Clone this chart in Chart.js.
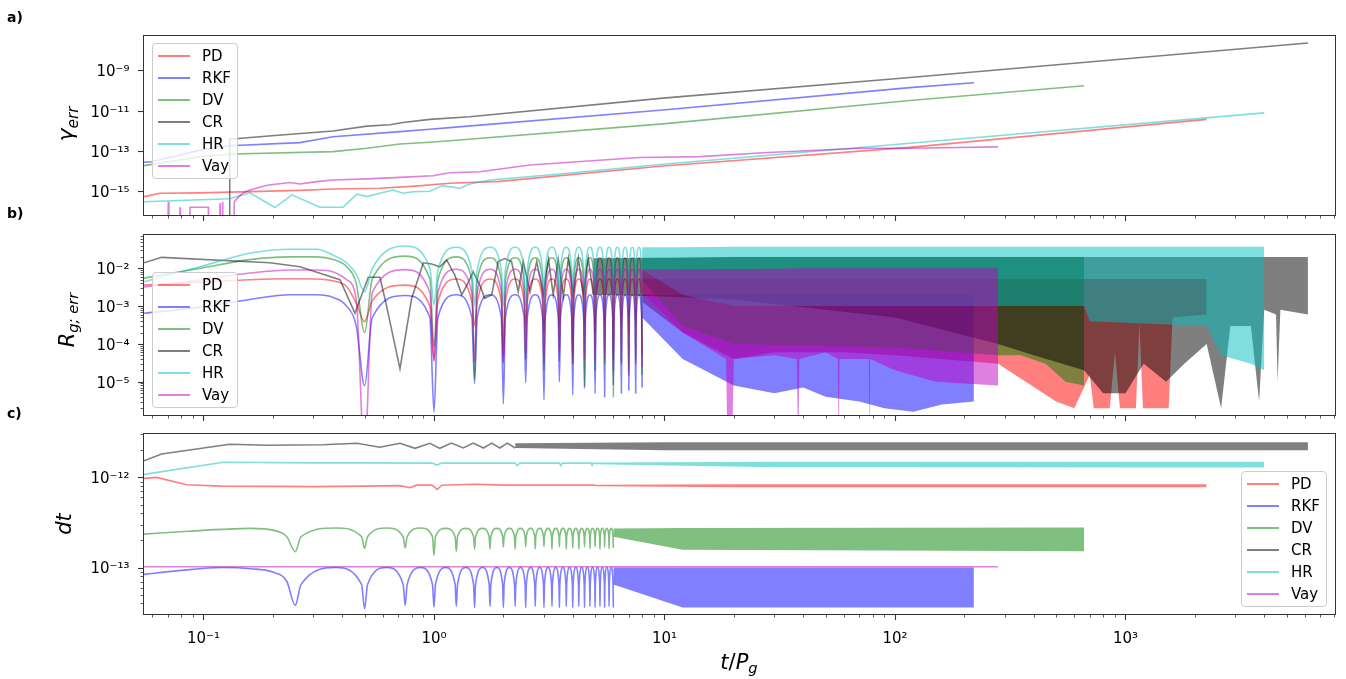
<!DOCTYPE html>
<html>
<head>
<meta charset="utf-8">
<script src="https://cdn.jsdelivr.net/npm/chart.js@4.4.1/dist/chart.umd.min.js"></script>
<style>
  body { margin: 0; background: #fff; font-family: "DejaVu Sans", sans-serif; }
  #wrap { position: relative; width: 1346px; height: 679px; overflow: hidden; }
  canvas { position: absolute; left: 0; top: 0; }
  .tag { position: absolute; left: 7px; font-weight: bold; font-size: 14px; transform: translateY(-50%); }
  .lab { position: absolute; font-style: italic; font-size: 21px; white-space: nowrap; line-height: 1; }
  .ylab { transform: translate(-50%, -50%) rotate(-90deg); }
  .xlab { transform: translate(-50%, -50%); }
  .lab sub { font-size: 70%; vertical-align: -0.3em; line-height: 0; }
  .legend { position: absolute; width: 86px; box-sizing: border-box; background: rgba(255,255,255,0.8);
            border: 1px solid #ccc; border-radius: 4px; padding: 1px 0 1px 5px; font-size: 15px; color: #000; }
  .legend .row { height: 22px; display: flex; align-items: center; white-space: nowrap; }
  .legend .swatch { display: inline-block; width: 32px; height: 1.6px; margin-right: 12px; }
</style>
</head>
<body>
<div id="wrap">
  <canvas id="chartA" width="1346" height="679"></canvas>
  <canvas id="chartB" width="1346" height="679"></canvas>
  <canvas id="chartC" width="1346" height="679"></canvas>

  <div class="tag" style="top:17px">a)</div>
  <div class="tag" style="top:213px">b)</div>
  <div class="tag" style="top:413px">c)</div>

  <div class="lab ylab" style="left:66px; top:124px; font-size:22px">γ<sub>err</sub></div>
  <div class="lab ylab" style="left:67px; top:320px">R<sub>g; err</sub></div>
  <div class="lab ylab" style="left:64px; top:524px">dt</div>
  <div class="lab xlab" style="left:739px; top:662px">t<span style="font-style:normal">/</span>P<sub>g</sub></div>

  <div class="legend" id="legA" style="left:152px; top:43px"></div>
  <div class="legend" id="legB" style="left:152px; top:272px"></div>
  <div class="legend" id="legC" style="left:1241px; top:471px"></div>
</div>

<script>
// series
const NAMES = ['PD', 'RKF', 'DV', 'CR', 'HR', 'Vay'];
const COLORS = ['rgba(255,0,0,0.5)', 'rgba(0,0,255,0.5)', 'rgba(0,128,0,0.5)',
                'rgba(0,0,0,0.5)', 'rgba(0,191,191,0.5)', 'rgba(191,0,191,0.5)'];

// x axis: t/P_g
const X_MIN = 0.0552, X_MAX = 8070;

// ---- a) gamma_err ----
const gPdT = [0.0552, 0.0648, 0.0966, 0.159, 0.262, 0.365, 0.583, 0.83, 1.17, 1.93, 9.85, 116, 2250];
const gPdV = [5.4e-16, 7.9e-16, 8.3e-16, 9.6e-16, 1.1e-15, 1.3e-15, 1.4e-15, 1.8e-15, 2.5e-15, 3.1e-15, 1.8e-14, 1.5e-13, 3.7e-12];
const gRkfT = [0.0552, 0.0598, 0.0966, 0.13, 0.262, 0.365, 0.712, 0.96, 1.17, 9.85, 116, 220];
const gRkfV = [2.75e-14, 2.9e-14, 1.1e-13, 1.8e-13, 2.6e-13, 5.1e-13, 9.1e-13, 1.2e-12, 1.44e-12, 1.07e-11, 1.4e-10, 2.45e-10];
const gDvT = [0.0552, 0.0966, 0.134, 0.365, 0.512, 0.712, 0.96, 1.17, 9.85, 116, 661];
const gDvV = [1.86e-14, 5.2e-14, 7.1e-14, 9.3e-14, 1.35e-13, 2.2e-13, 2.7e-13, 3.2e-13, 2.2e-12, 3.2e-11, 1.74e-10];
const gCrT = [0.1295, 0.130, 0.204, 0.365, 0.512, 0.644, 0.734, 0.96, 1.43, 9.85, 116, 6190];
const gCrV = [1e-17, 3.8e-13, 5.8e-13, 9.8e-13, 1.7e-12, 2.0e-12, 2.6e-12, 3.7e-12, 5.0e-12, 4.2e-11, 4.4e-10, 2.3e-8];
const gHrT = [0.0552, 0.13, 0.159, 0.204, 0.242, 0.32, 0.403, 0.463, 0.512, 0.583, 0.664, 0.734, 0.81,
              0.96, 1.09, 1.30, 1.43, 1.75, 2.14, 3.52, 9.85, 116, 4000];
const gHrV = [3.0e-16, 4.2e-16, 8.3e-16, 1.55e-16, 6.6e-16, 1.6e-16, 1.6e-16, 7.1e-16, 5.4e-16, 7.9e-16, 1.15e-15, 7.9e-16, 9.5e-16,
              1.0e-15, 1.9e-15, 1.4e-15, 2.3e-15, 3.6e-15, 4.4e-15, 7.2e-15, 2.2e-14, 2.4e-13, 7.8e-12];
const gVayT = [0.0552, 0.0700, 0.0704, 0.0708, 0.0788, 0.0791, 0.0794, 0.0872, 0.0874, 0.105, 0.1052,
               0.1175, 0.118, 0.1185, 0.1205, 0.121, 0.1215, 0.1355, 0.136, 0.1426, 0.149, 0.159, 0.189,
               0.237, 0.262, 0.311, 0.365, 0.512, 0.712, 0.99, 1.17, 1.58, 2.61, 7.8, 14.3, 26.8, 70.5, 116, 280];
const gVayV = [1e-17, 1e-17, 3e-16, 1e-17, 1e-17, 1.6e-16, 1e-17, 1e-17, 1.6e-16, 1.6e-16, 1e-17,
               1e-17, 2.6e-16, 1e-17, 1e-17, 3e-16, 1e-17, 1e-17, 3e-16, 5.4e-16, 8.5e-16, 1.15e-15, 2.0e-15,
               2.7e-15, 2.3e-15, 3.0e-15, 3.6e-15, 4.1e-15, 4.9e-15, 5.9e-15, 8.3e-15, 9.3e-15, 2.0e-14, 4.7e-14, 5.2e-14, 8.2e-14, 1.35e-13, 1.35e-13, 1.6e-13];

// ---- b) R_g;err : arches (dip / knee / peak / knee) up to t = 8 ----
const rT = [0.0552, 0.0966, 0.159, 0.237, 0.31, 0.366, 0.418, 0.46,
            0.5, 0.54, 0.75, 0.96,
            1.0, 1.04, 1.25, 1.46,
            1.5, 1.54, 1.75, 1.96,
            2.0, 2.04, 2.25, 2.46,
            2.5, 2.54, 2.75, 2.96,
            3.0, 3.04, 3.25, 3.46,
            3.5, 3.54, 3.75, 3.96,
            4.0, 4.04, 4.25, 4.46,
            4.5, 4.54, 4.75, 4.96,
            5.0, 5.04, 5.25, 5.46,
            5.5, 5.54, 5.75, 5.96,
            6.0, 6.04, 6.25, 6.46,
            6.5, 6.54, 6.75, 6.96,
            7.0, 7.04, 7.25, 7.46,
            7.5, 7.54, 7.75, 7.96,
            8.0];
const rPd = [3.6e-3, 4.3e-3, 5.0e-3, 5.3e-3, 5.2e-3, 4.6e-3, 3.3e-3, 1.2e-3,
             3.9e-4, 1.4e-3, 3.6e-3, 1.0e-3,
             3.7e-5, 1.3e-3, 5.2e-3, 1.3e-3,
             3.0e-4, 1.3e-3, 5.2e-3, 1.3e-3,
             3.4e-5, 1.3e-3, 5.2e-3, 1.3e-3,
             3.0e-4, 1.3e-3, 5.2e-3, 1.3e-3,
             2.0e-4, 1.3e-3, 5.2e-3, 1.3e-3,
             3.0e-4, 1.3e-3, 5.2e-3, 1.3e-3,
             4.0e-5, 1.3e-3, 5.2e-3, 1.3e-3,
             3.0e-4, 1.3e-3, 5.2e-3, 1.3e-3,
             2.0e-4, 1.3e-3, 5.2e-3, 1.3e-3,
             3.0e-4, 1.3e-3, 5.2e-3, 1.3e-3,
             4.0e-5, 1.3e-3, 5.2e-3, 1.3e-3,
             3.0e-4, 1.3e-3, 5.2e-3, 1.3e-3,
             2.0e-4, 1.3e-3, 5.2e-3, 1.3e-3,
             3.0e-4, 1.3e-3, 5.2e-3, 1.3e-3,
             5.0e-5];
const rRkf = [6.5e-4, 9.3e-4, 1.5e-3, 2.0e-3, 2.0e-3, 1.7e-3, 1.0e-3, 3.0e-4,
              7.8e-6, 5.0e-4, 1.9e-3, 5.0e-4,
              1.6e-6, 5.0e-4, 2.0e-3, 5.0e-4,
              8.9e-6, 5.0e-4, 2.0e-3, 5.0e-4,
              2.6e-6, 5.0e-4, 2.0e-3, 5.0e-4,
              9.5e-6, 5.0e-4, 2.0e-3, 5.0e-4,
              3.3e-6, 5.0e-4, 2.0e-3, 5.0e-4,
              1.0e-5, 5.0e-4, 2.0e-3, 5.0e-4,
              4.5e-6, 5.0e-4, 2.0e-3, 5.0e-4,
              6.7e-6, 5.0e-4, 2.0e-3, 5.0e-4,
              4.9e-6, 5.0e-4, 2.0e-3, 5.0e-4,
              4.0e-6, 5.0e-4, 2.0e-3, 5.0e-4,
              8.0e-6, 5.0e-4, 2.0e-3, 5.0e-4,
              5.0e-6, 5.0e-4, 2.0e-3, 5.0e-4,
              6.0e-6, 5.0e-4, 2.0e-3, 5.0e-4,
              5.0e-6, 5.0e-4, 2.0e-3, 5.0e-4,
              7.0e-6];
const rDv = [5.5e-3, 1.0e-2, 1.7e-2, 2.0e-2, 2.0e-2, 1.7e-2, 1.1e-2, 4.0e-3,
             2.0e-4, 5.2e-3, 2.1e-2, 5.2e-3,
             8.0e-5, 5.0e-3, 2.0e-2, 5.0e-3,
             1.2e-5, 4.8e-3, 1.9e-2, 4.8e-3,
             5.0e-5, 4.8e-3, 1.9e-2, 4.8e-3,
             4.0e-5, 4.8e-3, 1.9e-2, 4.8e-3,
             2.0e-5, 4.8e-3, 1.9e-2, 4.8e-3,
             6.0e-5, 4.8e-3, 1.9e-2, 4.8e-3,
             3.0e-5, 4.8e-3, 1.9e-2, 4.8e-3,
             8.0e-6, 4.8e-3, 1.9e-2, 4.8e-3,
             2.0e-5, 4.8e-3, 1.9e-2, 4.8e-3,
             3.0e-5, 4.8e-3, 1.9e-2, 4.8e-3,
             4.0e-6, 4.8e-3, 1.9e-2, 4.8e-3,
             3.0e-5, 4.8e-3, 1.9e-2, 4.8e-3,
             2.0e-5, 4.8e-3, 1.9e-2, 4.8e-3,
             4.0e-5, 4.8e-3, 1.9e-2, 4.8e-3,
             1.5e-5];
const rHr = [4.4e-3, 1.1e-2, 2.5e-2, 3.2e-2, 3.2e-2, 2.2e-2, 1.4e-2, 7.0e-3,
             2.4e-3, 1.0e-2, 3.9e-2, 1.0e-2,
             1.1e-3, 9.0e-3, 3.6e-2, 9.0e-3,
             1.0e-3, 9.0e-3, 3.6e-2, 9.0e-3,
             1.0e-3, 9.0e-3, 3.6e-2, 9.0e-3,
             1.0e-3, 9.0e-3, 3.6e-2, 9.0e-3,
             1.0e-3, 9.0e-3, 3.6e-2, 9.0e-3,
             1.0e-3, 9.0e-3, 3.6e-2, 9.0e-3,
             1.0e-3, 9.0e-3, 3.6e-2, 9.0e-3,
             1.0e-3, 9.0e-3, 3.6e-2, 9.0e-3,
             1.0e-3, 9.0e-3, 3.6e-2, 9.0e-3,
             1.0e-3, 9.0e-3, 3.6e-2, 9.0e-3,
             1.0e-3, 9.0e-3, 3.6e-2, 9.0e-3,
             1.0e-3, 9.0e-3, 3.6e-2, 9.0e-3,
             1.0e-3, 9.0e-3, 3.6e-2, 9.0e-3,
             1.0e-3, 9.0e-3, 3.6e-2, 9.0e-3,
             1.0e-3];
const rVay = [3.2e-3, 4.9e-3, 7.5e-3, 9.0e-3, 9.0e-3, 8.0e-3, 5.0e-3, 1.5e-3,
              1e-7, 2.3e-3, 9.2e-3, 2.3e-3,
              3.5e-5, 2.3e-3, 9.4e-3, 2.3e-3,
              3.4e-5, 2.3e-3, 9.4e-3, 2.3e-3,
              3.0e-5, 2.3e-3, 9.4e-3, 2.3e-3,
              4.0e-5, 2.3e-3, 9.4e-3, 2.3e-3,
              3.0e-5, 2.3e-3, 9.4e-3, 2.3e-3,
              3.5e-5, 2.3e-3, 9.4e-3, 2.3e-3,
              3.0e-5, 2.3e-3, 9.4e-3, 2.3e-3,
              4.0e-5, 2.3e-3, 9.4e-3, 2.3e-3,
              3.4e-5, 2.3e-3, 9.4e-3, 2.3e-3,
              4.0e-5, 2.3e-3, 9.4e-3, 2.3e-3,
              2.0e-5, 2.3e-3, 9.4e-3, 2.3e-3,
              3.5e-5, 2.3e-3, 9.4e-3, 2.3e-3,
              1.5e-5, 2.3e-3, 9.4e-3, 2.3e-3,
              3.0e-5, 2.3e-3, 9.4e-3, 2.3e-3,
              2.5e-5];
const rCrT = [0.0552, 0.0658, 0.194, 0.262, 0.32, 0.391, 0.454, 0.519, 0.583, 0.623,
              0.712, 0.80, 0.899, 0.977, 1.06, 1.135, 1.23, 1.32, 1.39, 1.48,
              1.58, 1.66, 1.78, 1.90, 2.03, 2.17, 2.32, 2.44, 2.61, 2.79,
              2.98, 3.14, 3.29, 3.46, 3.64, 3.83, 4.02, 4.23, 4.44, 4.67, 4.91];
const rCrV = [1.4e-2, 1.95e-2, 1.4e-2, 1.1e-2, 7.4e-3, 5.0e-3, 6.5e-4, 5.8e-3, 5.8e-3, 1.0e-3,
              2.2e-5, 1.6e-3, 1.4e-2, 1.3e-2, 1.1e-2, 1.66e-2, 6.7e-3, 2.0e-3, 3.6e-3, 8.1e-3,
              3.6e-3, 1.6e-3, 2.0e-3, 1.5e-2, 1.8e-2, 1.5e-2, 2.4e-3, 1.5e-2, 2.4e-3, 1.5e-2,
              2.0e-3, 1.7e-2, 2.0e-3, 1.7e-2, 1.8e-3, 1.84e-2, 2.0e-3, 1.84e-2, 2.0e-3, 1.84e-2, 2.0e-3];

// b) dense part: upper / lower envelope
const rPdBandT = [8, 12, 20, 30, 60, 100, 280, 500, 600, 700, 728, 855, 900, 946, 1110, 1150, 1190, 1540, 1600, 2250];
const rPdBandTop = [5.2e-3, 5.2e-3, 5.2e-3, 5.2e-3, 5.2e-3, 5.2e-3, 5.2e-3, 5.2e-3, 5.2e-3, 5.2e-3,
                    5.2e-3, 5.2e-3, 5.2e-3, 5.2e-3, 5.2e-3, 5.2e-3, 5.2e-3, 5.2e-3, 5.2e-3, 5.2e-3];
const rPdBandLow = [1.3e-3, 2.0e-4, 4.0e-5, 6.0e-5, 6.0e-5, 5.0e-5, 3.0e-5, 3.0e-6, 2.0e-6, 1.5e-5,
                    2.0e-6, 2.0e-6, 6.0e-5, 2.0e-6, 2.0e-6, 3.5e-4, 2.0e-6, 2.0e-6, 5.0e-4, 6.0e-4];
const rRkfBandT = [8, 12, 20, 30, 40, 50, 70, 90, 120, 160, 220];
const rRkfBandTop = [2.0e-3, 2.0e-3, 2.0e-3, 2.0e-3, 2.0e-3, 2.0e-3, 2.0e-3, 2.0e-3, 2.0e-3, 2.0e-3, 2.0e-3];
const rRkfBandLow = [5.0e-4, 4.0e-5, 8.0e-6, 5.0e-6, 7.0e-6, 4.0e-6, 3.0e-6, 2.0e-6, 1.6e-6, 2.5e-6, 3.0e-6];
const rDvBandT = [8, 12, 20, 100, 280, 350, 450, 550, 661];
const rDvBandTop = [1.9e-2, 1.9e-2, 2.0e-2, 2.0e-2, 2.0e-2, 2.0e-2, 2.0e-2, 2.0e-2, 2.0e-2];
const rDvBandLow = [4.8e-3, 3.0e-4, 1.0e-4, 8.0e-5, 5.0e-5, 5.0e-5, 3.0e-5, 1.0e-5, 8.0e-6];
const rCrBandT = [4.91, 10, 20, 100, 280, 400, 661, 800, 1000, 1200, 1500, 1800, 2250, 2600, 2850,
                  3500, 3800, 4000, 4500, 4570, 4700, 6190];
const rCrBandTop = [1.84e-2, 1.9e-2, 2.0e-2, 2.0e-2, 2.0e-2, 2.0e-2, 2.0e-2, 2.0e-2, 2.0e-2, 2.0e-2, 2.0e-2,
                    2.0e-2, 2.0e-2, 2.0e-2, 2.0e-2, 2.0e-2, 2.0e-2, 2.0e-2, 2.0e-2, 2.0e-2, 2.0e-2, 2.0e-2];
const rCrBandLow = [2.0e-3, 1.8e-3, 1.5e-3, 5.0e-4, 1.0e-4, 5.0e-5, 2.0e-5, 5.0e-6, 5.0e-6, 3.0e-5, 1.0e-5,
                    3.0e-5, 1.0e-4, 2.0e-6, 3.0e-4, 3.0e-4, 3.0e-6, 8.0e-4, 6.0e-4, 1.0e-5, 8.0e-4, 6.0e-4];
const rHrBandT = [8, 12, 20, 661, 700, 2250, 2600, 3500, 4000];
const rHrBandTop = [3.6e-2, 3.6e-2, 3.7e-2, 3.7e-2, 3.7e-2, 3.7e-2, 3.7e-2, 3.7e-2, 3.7e-2];
const rHrBandLow = [9.0e-3, 2.0e-3, 1.0e-3, 1.0e-3, 4.0e-4, 3.0e-4, 5.0e-5, 3.0e-5, 2.0e-5];
const rVayBandT = [8, 12, 18.5, 18.8, 19.6, 20, 30, 37.5, 38, 38.5, 50, 56.5, 57, 57.5, 77, 77.5, 78, 100, 150, 280];
const rVayBandTop = [9.4e-3, 9.5e-3, 9.6e-3, 9.6e-3, 9.6e-3, 9.6e-3, 9.8e-3, 1.0e-2, 1.0e-2, 1.0e-2,
                     1.0e-2, 1.0e-2, 1.0e-2, 1.0e-2, 1.0e-2, 1.0e-2, 1.0e-2, 1.0e-2, 1.0e-2, 1.0e-2];
const rVayBandLow = [2.3e-3, 2.0e-4, 4.0e-5, 1e-7, 1e-7, 4.0e-5, 5.0e-5, 4.0e-5, 1e-7, 4.0e-5,
                     6.0e-5, 4.0e-5, 1e-7, 4.0e-5, 4.0e-5, 1e-7, 4.0e-5, 2.0e-5, 1.0e-5, 8.0e-6];

// ---- c) dt : arches up to t = 6 for RKF and DV ----
const cT = [0.0552, 0.08, 0.12, 0.16, 0.2, 0.23,
            0.25, 0.265, 0.375, 0.485,
            0.5, 0.515, 0.625, 0.735,
            0.75, 0.765, 0.875, 0.985,
            1.0, 1.015, 1.125, 1.235,
            1.25, 1.265, 1.375, 1.485,
            1.5, 1.515, 1.625, 1.735,
            1.75, 1.765, 1.875, 1.985,
            2.0, 2.015, 2.125, 2.235,
            2.25, 2.265, 2.375, 2.485,
            2.5, 2.515, 2.625, 2.735,
            2.75, 2.765, 2.875, 2.985,
            3.0, 3.015, 3.125, 3.235,
            3.25, 3.265, 3.375, 3.485,
            3.5, 3.515, 3.625, 3.735,
            3.75, 3.765, 3.875, 3.985,
            4.0, 4.015, 4.125, 4.235,
            4.25, 4.265, 4.375, 4.485,
            4.5, 4.515, 4.625, 4.735,
            4.75, 4.765, 4.875, 4.985,
            5.0, 5.015, 5.125, 5.235,
            5.25, 5.265, 5.375, 5.485,
            5.5, 5.515, 5.625, 5.735,
            5.75, 5.765, 5.875, 5.985,
            6.0];
const cRkf = [8.4e-14, 9.3e-14, 1.0e-13, 9.7e-14, 8.9e-14, 7.0e-14,
              3.8e-14, 6.5e-14, 1.0e-13, 6.5e-14,
              3.5e-14, 6.5e-14, 1.0e-13, 6.5e-14,
              3.8e-14, 6.5e-14, 1.0e-13, 6.5e-14,
              3.65e-14, 6.5e-14, 1.0e-13, 6.5e-14,
              3.7e-14, 6.5e-14, 1.0e-13, 6.5e-14,
              3.6e-14, 6.5e-14, 1.0e-13, 6.5e-14,
              3.7e-14, 6.5e-14, 1.0e-13, 6.5e-14,
              3.6e-14, 6.5e-14, 1.0e-13, 6.5e-14,
              3.7e-14, 6.5e-14, 1.0e-13, 6.5e-14,
              3.6e-14, 6.5e-14, 1.0e-13, 6.5e-14,
              3.7e-14, 6.5e-14, 1.0e-13, 6.5e-14,
              3.6e-14, 6.5e-14, 1.0e-13, 6.5e-14,
              3.7e-14, 6.5e-14, 1.0e-13, 6.5e-14,
              3.6e-14, 6.5e-14, 1.0e-13, 6.5e-14,
              3.7e-14, 6.5e-14, 1.0e-13, 6.5e-14,
              3.6e-14, 6.5e-14, 1.0e-13, 6.5e-14,
              3.7e-14, 6.5e-14, 1.0e-13, 6.5e-14,
              3.6e-14, 6.5e-14, 1.0e-13, 6.5e-14,
              3.7e-14, 6.5e-14, 1.0e-13, 6.5e-14,
              3.6e-14, 6.5e-14, 1.0e-13, 6.5e-14,
              3.7e-14, 6.5e-14, 1.0e-13, 6.5e-14,
              3.6e-14, 6.5e-14, 1.0e-13, 6.5e-14,
              3.7e-14, 6.5e-14, 1.0e-13, 6.5e-14,
              3.6e-14];
const cDv = [2.35e-13, 2.5e-13, 2.65e-13, 2.72e-13, 2.6e-13, 2.2e-13,
             1.5e-13, 2.2e-13, 2.75e-13, 2.2e-13,
             1.63e-13, 2.2e-13, 2.75e-13, 2.2e-13,
             1.65e-13, 2.2e-13, 2.75e-13, 2.2e-13,
             1.37e-13, 2.2e-13, 2.72e-13, 2.2e-13,
             1.52e-13, 2.2e-13, 2.72e-13, 2.2e-13,
             1.6e-13, 2.2e-13, 2.72e-13, 2.2e-13,
             1.62e-13, 2.2e-13, 2.72e-13, 2.2e-13,
             1.69e-13, 2.2e-13, 2.72e-13, 2.2e-13,
             1.6e-13, 2.2e-13, 2.72e-13, 2.2e-13,
             1.7e-13, 2.2e-13, 2.72e-13, 2.2e-13,
             1.62e-13, 2.2e-13, 2.72e-13, 2.2e-13,
             1.72e-13, 2.2e-13, 2.72e-13, 2.2e-13,
             1.6e-13, 2.2e-13, 2.72e-13, 2.2e-13,
             1.7e-13, 2.2e-13, 2.72e-13, 2.2e-13,
             1.6e-13, 2.2e-13, 2.72e-13, 2.2e-13,
             1.65e-13, 2.2e-13, 2.72e-13, 2.2e-13,
             1.6e-13, 2.2e-13, 2.72e-13, 2.2e-13,
             1.7e-13, 2.2e-13, 2.72e-13, 2.2e-13,
             1.62e-13, 2.2e-13, 2.72e-13, 2.2e-13,
             1.7e-13, 2.2e-13, 2.72e-13, 2.2e-13,
             1.6e-13, 2.2e-13, 2.72e-13, 2.2e-13,
             1.68e-13, 2.2e-13, 2.72e-13, 2.2e-13,
             1.62e-13, 2.2e-13, 2.72e-13, 2.2e-13,
             1.65e-13];
const cPdT = [0.0552, 0.0626, 0.0846, 0.12, 0.3, 0.5, 0.71, 0.787, 0.841, 0.98, 1.034, 1.08, 1.5, 2.0, 3.0, 5.0];
const cPdV = [9.75e-13, 1.0e-12, 8.3e-13, 8.0e-13, 7.9e-13, 8.0e-13, 8.1e-13, 7.67e-13, 8.2e-13, 8.2e-13, 7.35e-13, 8.2e-13, 8.4e-13, 8.2e-13, 8.2e-13, 8.2e-13];
const cHrT = [0.0552, 0.122, 0.3, 0.5, 0.98, 1.03, 1.08, 2.25, 2.3, 2.35, 3.5, 3.55, 3.6, 4.8, 4.85, 4.9, 5.0];
const cHrV = [1.08e-12, 1.47e-12, 1.45e-12, 1.45e-12, 1.44e-12, 1.37e-12, 1.44e-12, 1.44e-12, 1.35e-12, 1.44e-12,
              1.44e-12, 1.35e-12, 1.44e-12, 1.44e-12, 1.36e-12, 1.44e-12, 1.44e-12];
const cCrT = [0.0552, 0.0658, 0.130, 0.188, 0.331, 0.462, 0.583, 0.712, 0.827, 0.96,
              1.06, 1.19, 1.34, 1.48, 1.64, 1.78, 1.93, 2.08, 2.25];
const cCrV = [1.53e-12, 1.82e-12, 2.33e-12, 2.27e-12, 2.3e-12, 2.39e-12, 2.16e-12, 2.39e-12, 2.1e-12, 2.39e-12,
              2.1e-12, 2.4e-12, 2.12e-12, 2.4e-12, 2.12e-12, 2.4e-12, 2.12e-12, 2.4e-12, 2.12e-12];
const cVayT = [0.0552, 280];
const cVayV = [1.02e-13, 1.02e-13];

const cPdBandT = [5, 20, 2250], cPdBandTop = [8.3e-13, 8.4e-13, 8.4e-13], cPdBandLow = [8.0e-13, 7.8e-13, 7.8e-13];
const cRkfBandT = [6, 12, 220], cRkfBandTop = [1.0e-13, 1.0e-13, 1.0e-13], cRkfBandLow = [6.5e-14, 3.6e-14, 3.6e-14];
const cDvBandT = [6, 12, 661], cDvBandTop = [2.72e-13, 2.75e-13, 2.78e-13], cDvBandLow = [2.2e-13, 1.58e-13, 1.52e-13];
const cCrBandT = [2.25, 10, 6190], cCrBandTop = [2.4e-12, 2.45e-12, 2.45e-12], cCrBandLow = [2.12e-12, 2.0e-12, 2.0e-12];
const cHrBandT = [5, 30, 4000], cHrBandTop = [1.46e-12, 1.49e-12, 1.49e-12], cHrBandLow = [1.40e-12, 1.30e-12, 1.29e-12];

// ---- helpers ----
Chart.defaults.font.family = "'DejaVu Sans', sans-serif";
const TICK_FONT = { size: 15 };
const SUP = { '-': '⁻', '0': '⁰', '1': '¹', '2': '²', '3': '³', '4': '⁴', '5': '⁵', '6': '⁶', '7': '⁷', '8': '⁸', '9': '⁹' };
const isDecade = v => Math.abs(Math.log10(v) - Math.round(Math.log10(v))) < 1e-6;
const pow10 = v => '10' + String(Math.round(Math.log10(v))).split('').map(c => SUP[c]).join('');

function logTicks(min, max) {
    const out = [];
    for (let e = Math.floor(Math.log10(min)); e <= Math.ceil(Math.log10(max)); e++) {
        for (let s = 1; s <= 9; s++) {
            const v = s * Math.pow(10, e);
            if (v >= min && v <= max) out.push({ value: v, major: s === 1 });
        }
    }
    return out;
}

const pts = (t, v) => t.map((x, i) => ({ x, y: v[i] }));

function line(k, t, v, smooth) {
    return {
        label: NAMES[k], data: pts(t, v), borderColor: COLORS[k], borderWidth: 1.6,
        pointRadius: 0, fill: false, tension: 0,
        cubicInterpolationMode: smooth ? 'monotone' : 'default', order: 6 - k
    };
}

function band(k, t, top, low) {
    return [
        { label: NAMES[k], data: pts(t, top), borderWidth: 0, borderColor: 'rgba(0,0,0,0)', pointRadius: 0,
          backgroundColor: COLORS[k], fill: '+1', order: 6 - k },
        { label: NAMES[k], data: pts(t, low), borderWidth: 0, borderColor: 'rgba(0,0,0,0)', pointRadius: 0,
          fill: false, order: 6 - k }
    ];
}

// frame + tick marks
const frame = {
    id: 'frame',
    afterDraw(chart) {
        const { ctx, chartArea: a, scales: { x, y } } = chart;
        ctx.save();
        ctx.strokeStyle = '#333';
        ctx.lineWidth = 1;
        const L = Math.round(a.left) - 0.5, R = Math.round(a.right) + 0.5;
        const T = Math.round(a.top) - 0.5, B = Math.round(a.bottom) + 0.5;
        ctx.strokeRect(L, T, R - L, B - T);
        x.ticks.forEach(t => {
            const px = Math.round(x.getPixelForValue(t.value)) + 0.5;
            ctx.lineWidth = t.major ? 1.1 : 0.8;
            ctx.beginPath(); ctx.moveTo(px, B); ctx.lineTo(px, B + (t.major ? 5.5 : 3)); ctx.stroke();
        });
        y.ticks.forEach(t => {
            const py = Math.round(y.getPixelForValue(t.value)) + 0.5;
            ctx.lineWidth = t.major ? 1.1 : 0.8;
            ctx.beginPath(); ctx.moveTo(L, py); ctx.lineTo(L - (t.major ? 5.5 : 3), py); ctx.stroke();
        });
        ctx.restore();
    }
};

function makeChart(id, datasets, o) {
    return new Chart(document.getElementById(id), {
        type: 'line',
        data: { datasets },
        options: {
            responsive: false,
            animation: false,
            events: [],
            layout: { autoPadding: false, padding: { left: 0, right: 11.5, top: o.top, bottom: o.bottom } },
            plugins: { legend: { display: false }, tooltip: { enabled: false } },
            scales: {
                x: {
                    type: 'logarithmic', min: X_MIN, max: X_MAX,
                    afterBuildTicks: axis => { axis.ticks = logTicks(X_MIN, X_MAX); },
                    afterFit: axis => { axis.height = o.xh; },
                    grid: { display: false, drawTicks: true, tickLength: 5.5 },
                    border: { display: false },
                    ticks: {
                        display: o.xLabels, autoSkip: false, maxRotation: 0, minRotation: 0, padding: 10,
                        color: '#000', font: TICK_FONT,
                        callback: v => isDecade(v) ? pow10(v) : ''
                    }
                },
                y: {
                    type: 'logarithmic', min: o.ymin, max: o.ymax,
                    afterBuildTicks: axis => { axis.ticks = o.yticks; },
                    afterFit: axis => { axis.width = 144; },
                    grid: { display: false, drawTicks: true, tickLength: 5.5 },
                    border: { display: false },
                    ticks: {
                        autoSkip: false, padding: 9, labelOffset: 2, color: '#000', font: TICK_FONT,
                        callback: v => isDecade(v) ? pow10(v) : ''
                    }
                }
            }
        },
        plugins: [frame]
    });
}

// ---- a) ----
makeChart('chartA', [
    line(0, gPdT, gPdV), line(1, gRkfT, gRkfV), line(2, gDvT, gDvV),
    line(3, gCrT, gCrV), line(4, gHrT, gHrV), line(5, gVayT, gVayV)
], {
    top: 35.5, bottom: 447, xh: 17, xLabels: false,
    ymin: 6.6e-17, ymax: 5.4e-8,
    yticks: [1e-15, 1e-13, 1e-11, 1e-9].map(v => ({ value: v, major: true }))
});

// ---- b) ----
makeChart('chartB', [
    line(0, rT, rPd, true), ...band(0, rPdBandT, rPdBandTop, rPdBandLow),
    line(1, rT, rRkf, true), ...band(1, rRkfBandT, rRkfBandTop, rRkfBandLow),
    line(2, rT, rDv, true), ...band(2, rDvBandT, rDvBandTop, rDvBandLow),
    line(3, rCrT, rCrV), ...band(3, rCrBandT, rCrBandTop, rCrBandLow),
    line(4, rT, rHr, true), ...band(4, rHrBandT, rHrBandTop, rHrBandLow),
    line(5, rT, rVay, true), ...band(5, rVayBandT, rVayBandTop, rVayBandLow)
], {
    top: 234.5, bottom: 247, xh: 17, xLabels: false,
    ymin: 1.32e-6, ymax: 7.83e-2,
    yticks: logTicks(1.32e-6, 7.83e-2)
});

// ---- c) ----
makeChart('chartC', [
    line(0, cPdT, cPdV), ...band(0, cPdBandT, cPdBandTop, cPdBandLow),
    line(1, cT, cRkf, true), ...band(1, cRkfBandT, cRkfBandTop, cRkfBandLow),
    line(2, cT, cDv, true), ...band(2, cDvBandT, cDvBandTop, cDvBandLow),
    line(3, cCrT, cCrV), ...band(3, cCrBandT, cCrBandTop, cCrBandLow),
    line(4, cHrT, cHrV), ...band(4, cHrBandT, cHrBandTop, cHrBandLow),
    line(5, cVayT, cVayV)
], {
    top: 434, bottom: 24.7, xh: 40, xLabels: true,
    ymin: 3.03e-14, ymax: 3.03e-12,
    yticks: logTicks(3.03e-14, 3.03e-12)
});

// legends
['legA', 'legB', 'legC'].forEach(id => {
    document.getElementById(id).innerHTML = NAMES.map((name, i) => `
        <div class="row"><span class="swatch" style="background:${COLORS[i]}"></span>${name}</div>`).join('');
});
</script>
</body>
</html>
